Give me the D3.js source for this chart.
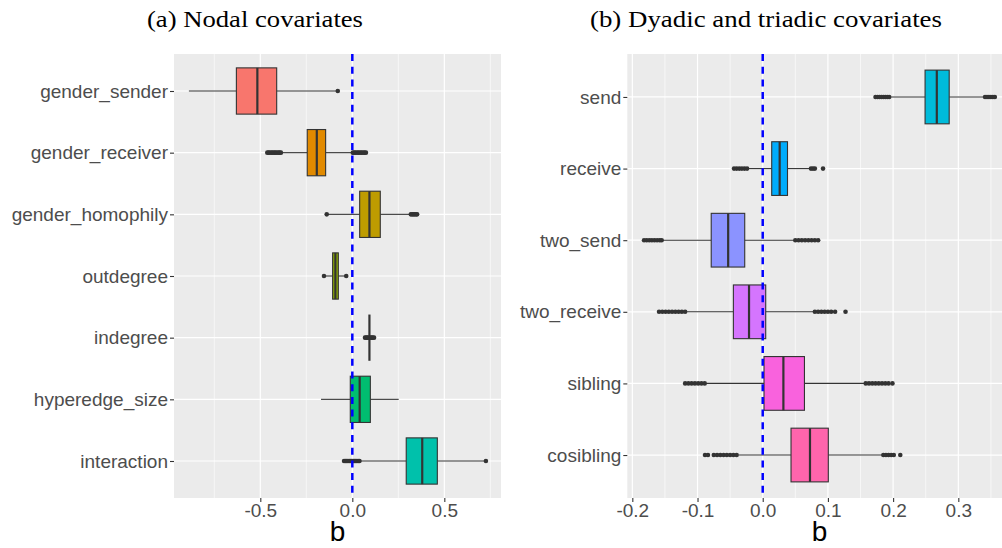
<!DOCTYPE html>
<html>
<head>
<meta charset="utf-8">
<script src="https://cdn.jsdelivr.net/npm/d3@7"></script>
<style>
  body { margin: 0; background: #fff; }
  svg { display: block; }
  .tick-label { font-family: "Liberation Sans", Arial, sans-serif; fill: #4d4d4d; }
</style>
</head>
<body>
<div id="chart"></div>
<script>
// Panel (a): nodal covariates
var nodalNames = ["gender_sender", "gender_receiver", "gender_homophily", "outdegree", "indegree", "hyperedge_size", "interaction"];
var nodalColors = ["#F8766D", "#E18A00", "#BE9C00", "#8CAB00", "#24B700", "#00BE70", "#00C1AB"];
var nodalWhiskLo = [-0.888, -0.383, -0.132, -0.150, 0.093, -0.170, 0.043];
var nodalQ1 = [-0.630, -0.245, 0.040, -0.107, 0.093, -0.011, 0.293];
var nodalMedian = [-0.516, -0.193, 0.093, -0.092, 0.093, 0.040, 0.380];
var nodalQ3 = [-0.411, -0.145, 0.152, -0.076, 0.093, 0.098, 0.462];
var nodalWhiskHi = [-0.085, -0.002, 0.312, -0.037, 0.093, 0.252, 0.718];
var nodalOutliers = [
    [-0.079],
    [-0.462, -0.455, -0.448, -0.44, -0.432, -0.425, -0.418, -0.41, -0.402, -0.395, -0.388,
     0.003, 0.01, 0.018, 0.026, 0.034, 0.042, 0.05, 0.058, 0.066, 0.074],
    [-0.139, 0.318, 0.325, 0.332, 0.339, 0.346, 0.352],
    [-0.154, -0.033],
    [0.069, 0.075, 0.081, 0.087, 0.099, 0.105, 0.111, 0.118],
    [],
    [-0.045, -0.038, -0.031, -0.024, -0.017, -0.01, -0.003, 0.004, 0.011, 0.018, 0.025, 0.032, 0.039, 0.726]
];
var nodalTicks = [-0.5, 0.0, 0.5];
var nodalMinor = [-0.75, -0.25, 0.25, 0.75];

// Panel (b): dyadic and triadic covariates
var dyadNames = ["send", "receive", "two_send", "two_receive", "sibling", "cosibling"];
var dyadColors = ["#00BBDA", "#00ACFC", "#8B93FF", "#D575FE", "#F962DD", "#FF65AC"];
var dyadWhiskLo = [0.197, -0.021, -0.153, -0.116, -0.087, -0.037];
var dyadQ1 = [0.249, 0.0138, -0.079, -0.045, 0.002, 0.0434];
var dyadMedian = [0.267, 0.026, -0.053, -0.021, 0.0317, 0.0725];
var dyadQ3 = [0.286, 0.038, -0.0276, 0.0046, 0.064, 0.1006];
var dyadWhiskHi = [0.338, 0.072, 0.048, 0.078, 0.156, 0.183];
var dyadOutliers = [
    [0.173, 0.176, 0.179, 0.182, 0.185, 0.188, 0.191, 0.194, 0.341, 0.344, 0.347, 0.35, 0.353, 0.356],
    [-0.044, -0.04, -0.036, -0.032, -0.028, -0.024, 0.074, 0.077, 0.080, 0.0925],
    [-0.182, -0.178, -0.174, -0.170, -0.166, -0.162, -0.158, -0.155,
     0.05, 0.055, 0.06, 0.065, 0.07, 0.075, 0.08, 0.085],
    [-0.159, -0.154, -0.149, -0.144, -0.139, -0.134, -0.129, -0.124, -0.119,
     0.08, 0.085, 0.09, 0.095, 0.1, 0.105, 0.111, 0.127],
    [-0.119, -0.114, -0.109, -0.104, -0.099, -0.094, -0.089,
     0.158, 0.163, 0.168, 0.173, 0.178, 0.183, 0.188, 0.193, 0.199],
    [-0.0885, -0.084, -0.075, -0.07, -0.065, -0.06, -0.055, -0.05, -0.045, -0.04,
     0.185, 0.189, 0.193, 0.197, 0.201, 0.211]
];
var dyadTicks = [-0.2, -0.1, 0.0, 0.1, 0.2, 0.3];
var dyadMinor = [-0.15, -0.05, 0.05, 0.15, 0.25, 0.35];

var svgWidth = 1002;
var svgHeight = 548;

var svg = d3.select("#chart")
    .append("svg")
    .attr("width", svgWidth)
    .attr("height", svgHeight);

function drawPanel(p) {
    var x = d3.scaleLinear().domain(p.domain).range([p.left, p.right]);
    var y = d3.scalePoint().domain(p.names).range([p.top, p.bottom]).padding(0.6);
    var step = y.step();
    var boxH = step * 0.75;

    var g = svg.append("g");

    // panel background + grid
    g.append("rect")
        .attr("x", p.left).attr("y", p.top)
        .attr("width", p.right - p.left).attr("height", p.bottom - p.top)
        .attr("fill", "#ebebeb");

    g.selectAll(".minor").data(p.minor).enter().append("line")
        .attr("x1", d => x(d)).attr("x2", d => x(d))
        .attr("y1", p.top).attr("y2", p.bottom)
        .attr("stroke", "#fff").attr("stroke-width", 0.6);

    g.selectAll(".major").data(p.ticks).enter().append("line")
        .attr("x1", d => x(d)).attr("x2", d => x(d))
        .attr("y1", p.top).attr("y2", p.bottom)
        .attr("stroke", "#fff").attr("stroke-width", 1.2);

    g.selectAll(".hgrid").data(p.names).enter().append("line")
        .attr("x1", p.left).attr("x2", p.right)
        .attr("y1", d => y(d)).attr("y2", d => y(d))
        .attr("stroke", "#fff").attr("stroke-width", 1.2);

    // boxes
    var rows = g.selectAll(".row").data(p.names).enter().append("g")
        .attr("transform", d => `translate(0, ${y(d)})`);

    rows.append("line")
        .attr("x1", (d, i) => x(p.whiskLo[i])).attr("x2", (d, i) => x(p.q1[i]))
        .attr("stroke", "#333").attr("stroke-width", 1.1);
    rows.append("line")
        .attr("x1", (d, i) => x(p.q3[i])).attr("x2", (d, i) => x(p.whiskHi[i]))
        .attr("stroke", "#333").attr("stroke-width", 1.1);

    rows.append("rect")
        .attr("x", (d, i) => x(p.q1[i]))
        .attr("y", -boxH / 2)
        .attr("width", (d, i) => x(p.q3[i]) - x(p.q1[i]))
        .attr("height", boxH)
        .attr("fill", (d, i) => p.colors[i])
        .attr("stroke", "#333").attr("stroke-width", 1.1);

    rows.append("line")
        .attr("x1", (d, i) => x(p.median[i])).attr("x2", (d, i) => x(p.median[i]))
        .attr("y1", -boxH / 2).attr("y2", boxH / 2)
        .attr("stroke", "#333").attr("stroke-width", 2.2);

    rows.selectAll("circle")
        .data((d, i) => p.outliers[i])
        .enter().append("circle")
        .attr("cx", d => x(d)).attr("cy", 0)
        .attr("r", 2.3)
        .attr("fill", "#333");

    // zero reference line
    g.append("line")
        .attr("x1", x(0)).attr("x2", x(0))
        .attr("y1", p.top).attr("y2", p.bottom)
        .attr("stroke", "#0000ff").attr("stroke-width", 2.5)
        .attr("stroke-dasharray", "7,5.7");

    // axes
    var leftAxis = d3.axisLeft(y).tickSize(4).tickPadding(2);
    var ga = g.append("g").attr("transform", `translate(${p.left}, 0)`).call(leftAxis);
    var bottomAxis = d3.axisBottom(x).tickValues(p.ticks).tickFormat(d3.format(".1f")).tickSize(4).tickPadding(2);
    var gb = g.append("g").attr("transform", `translate(0, ${p.bottom})`).call(bottomAxis);

    [ga, gb].forEach(function (a) {
        a.select(".domain").remove();
        a.selectAll(".tick line").attr("stroke", "#333").attr("stroke-width", 1.1);
        a.selectAll(".tick text")
            .attr("class", "tick-label")
            .attr("font-size", 19)
            .attr("fill", "#4d4d4d");
    });
    gb.selectAll(".tick text").text(d => d3.format(".1f")(d).replace("−", "-"));

    // axis title
    g.append("text")
        .attr("x", (p.left + Math.min(p.right, svgWidth)) / 2 + p.titleShift)
        .attr("y", 541)
        .attr("text-anchor", "middle")
        .attr("font-family", "Liberation Sans, Arial, sans-serif")
        .attr("font-size", 28)
        .attr("fill", "#000")
        .text("b");

    // panel caption
    g.append("text")
        .attr("x", p.captionX)
        .attr("y", 27)
        .attr("text-anchor", "middle")
        .attr("font-family", "Liberation Serif, Times New Roman, serif")
        .attr("font-size", 23)
        .attr("textLength", p.captionW)
        .attr("lengthAdjust", "spacingAndGlyphs")
        .attr("fill", "#000")
        .text(p.caption);
}

drawPanel({
    names: nodalNames, colors: nodalColors,
    whiskLo: nodalWhiskLo, q1: nodalQ1, median: nodalMedian, q3: nodalQ3, whiskHi: nodalWhiskHi,
    outliers: nodalOutliers, ticks: nodalTicks, minor: nodalMinor,
    domain: [-0.969, 0.808], left: 174, right: 501, top: 54, bottom: 498,
    titleShift: 0,
    caption: "(a) Nodal covariates", captionX: 255, captionW: 216
});

drawPanel({
    names: dyadNames, colors: dyadColors,
    whiskLo: dyadWhiskLo, q1: dyadQ1, median: dyadMedian, q3: dyadQ3, whiskHi: dyadWhiskHi,
    outliers: dyadOutliers, ticks: dyadTicks, minor: dyadMinor,
    domain: [-0.2077, 0.367], left: 627.3, right: 1002, top: 54, bottom: 498,
    titleShift: 5,
    caption: "(b) Dyadic and triadic covariates", captionX: 766, captionW: 352
});
</script>
</body>
</html>
